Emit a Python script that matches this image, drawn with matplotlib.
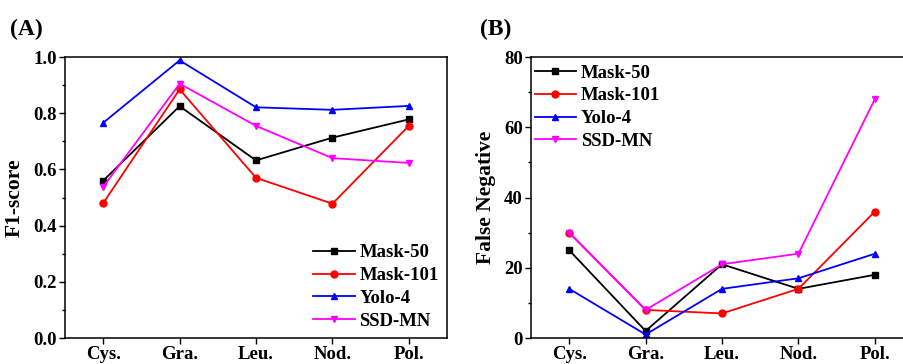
import numpy as np
import matplotlib.pyplot as plt
from matplotlib.ticker import MultipleLocator

plt.rcParams['font.family'] = ['Liberation Serif', 'DejaVu Serif']
plt.rcParams['font.weight'] = 'bold'
plt.rcParams['axes.labelweight'] = 'bold'

cats = ['Cys.', 'Gra.', 'Leu.', 'Nod.', 'Pol.']
models = ['Mask-50', 'Mask-101', 'Yolo-4', 'SSD-MN']
colors = ['black', 'red', 'blue', 'magenta']
markers = ['s', 'o', '^', 'v']

f1_mask50 = [0.560, 0.825, 0.632, 0.713, 0.778]
f1_mask101 = [0.480, 0.885, 0.570, 0.478, 0.755]
f1_yolo4 = [0.766, 0.988, 0.821, 0.812, 0.826]
f1_ssd = [0.538, 0.905, 0.755, 0.640, 0.623]

fn_mask50 = [25, 2, 21, 14, 18]
fn_mask101 = [30, 8, 7, 14, 36]
fn_yolo4 = [14, 1, 14, 17, 24]
fn_ssd = [30, 8, 21, 24, 68]

f1 = [f1_mask50, f1_mask101, f1_yolo4, f1_ssd]
fn = [fn_mask50, fn_mask101, fn_yolo4, fn_ssd]

fig = plt.figure(figsize=(9.04, 3.64), dpi=100)
axA = fig.add_axes([0.0719, 0.0714, 0.4226, 0.772])
axB = fig.add_axes([0.5874, 0.0714, 0.4226, 0.772])

x = np.arange(1, 6)


def style(ax, ymax, major, minor):
    ax.set_xlim(0.5, 5.5)
    ax.set_ylim(0, ymax)
    ax.set_xticks(x)
    ax.set_xticklabels(cats)
    ax.yaxis.set_major_locator(MultipleLocator(major))
    ax.yaxis.set_minor_locator(MultipleLocator(minor))
    ax.tick_params(axis='both', which='major', direction='out', length=4,
                   width=1, labelsize=13.5, pad=2)
    ax.tick_params(axis='y', which='minor', direction='out', length=2.5, width=1)
    ax.tick_params(top=False, right=False)
    for s in ax.spines.values():
        s.set_linewidth(1.1)


leg_kw = dict(frameon=False, fontsize=13.5, handlelength=2.2, handletextpad=0.25,
              labelspacing=0.3)

for vals, c, m, lab in zip(f1, colors, markers, models):
    axA.plot(x, vals, color=c, marker=m, markersize=5, linewidth=1.3, label=lab)
style(axA, 1.0, 0.2, 0.1)
axA.yaxis.set_major_formatter(plt.FormatStrFormatter('%.1f'))
axA.set_ylabel('F1-score', fontsize=15.5, labelpad=6)
axA.legend(loc='lower right', borderaxespad=0.05, **leg_kw)

for vals, c, m, lab in zip(fn, colors, markers, models):
    axB.plot(x, vals, color=c, marker=m, markersize=5, linewidth=1.3, label=lab)
style(axB, 80, 20, 10)
axB.set_ylabel('False Negative', fontsize=15.5, labelpad=6)
axB.legend(loc='upper left', bbox_to_anchor=(-0.01, 1.0), borderaxespad=0.0, **leg_kw)

fig.text(0.011, 0.905, '(A)', fontsize=17, fontweight='bold')
fig.text(0.531, 0.905, '(B)', fontsize=17, fontweight='bold')

fig.savefig('out.png', dpi=100)
